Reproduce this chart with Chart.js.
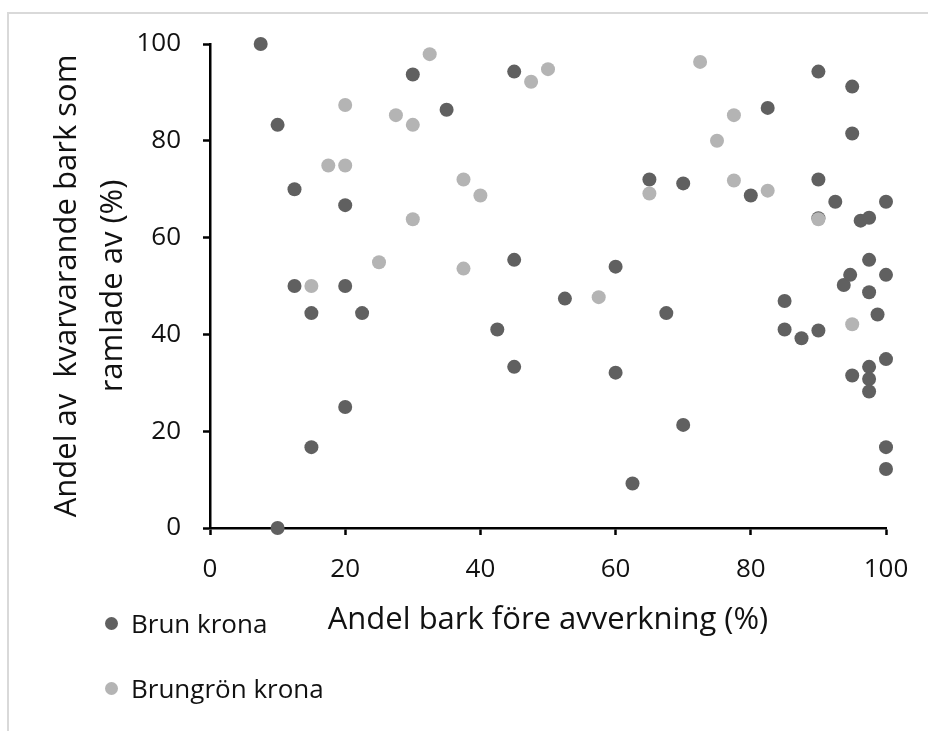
<!DOCTYPE html>
<html>
<head>
<meta charset="utf-8">
<script src="https://cdn.jsdelivr.net/npm/chart.js@4/dist/chart.umd.min.js"></script>
<style>
    body { margin: 0; background: #fff; }
    #wrap { position: relative; width: 928px; height: 731px; overflow: hidden; }
    #frame { position: absolute; left: 7px; top: 12px; width: 1000px; height: 1000px;
             border-left: 2px solid #d9d9d9; border-top: 2px solid #d9d9d9; }
    #chart { position: absolute; left: 0; top: 0; }
    .legend-item { position: absolute; left: 105px; font: 26px "Open Sans"; color: #111;
                   display: flex; align-items: center; height: 30px; }
    .legend-dot { width: 13px; height: 13px; border-radius: 50%; margin-right: 13px; }
</style>
</head>
<body>
<div id="wrap">
    <div id="frame"></div>
    <canvas id="chart" width="928" height="731"></canvas>
    <div class="legend-item" style="top: 608px;"><span class="legend-dot" style="background:#606060"></span>Brun krona</div>
    <div class="legend-item" style="top: 673px;"><span class="legend-dot" style="background:#b4b4b4"></span>Brungrön krona</div>
</div>
<script>
// Brun krona
const brunX = [7.5, 10, 12.5, 12.5, 15, 15, 10, 20, 20, 20, 22.5, 30, 35, 45, 45, 42.5, 45, 52.5, 60, 60, 62.5,
    65, 67.5, 70, 70, 80, 82.5, 85, 85, 87.5, 90, 90, 90, 90, 92.5, 93.75, 94.7, 95, 95, 95, 96.25,
    97.5, 97.5, 97.5, 97.5, 97.5, 97.5, 98.75, 100, 100, 100, 100, 100];
const brunY = [100, 83.3, 70, 50, 44.4, 16.7, 0, 66.7, 50, 25, 44.4, 93.7, 86.4, 94.3, 55.4, 41, 33.3, 47.4, 54, 32.1, 9.2,
    72, 44.4, 71.2, 21.3, 68.7, 86.8, 46.9, 41, 39.2, 94.3, 72, 64, 40.8, 67.4, 50.2, 52.3, 91.2, 81.5, 31.5, 63.5,
    64.1, 55.4, 48.7, 33.3, 30.8, 28.2, 44.1, 67.4, 52.3, 34.9, 16.7, 12.2];

// Brungrön krona
const brungronX = [32.5, 47.5, 50, 20, 27.5, 30, 17.5, 20, 37.5, 40, 30, 25, 37.5, 15, 57.5, 65, 72.5, 77.5, 75, 77.5, 82.5, 90, 95];
const brungronY = [97.9, 92.2, 94.8, 87.4, 85.3, 83.3, 74.9, 74.9, 72, 68.7, 63.8, 54.9, 53.6, 50, 47.7, 69.1, 96.3, 85.3, 80, 71.8, 69.7, 63.8, 42.1];

const xTicks = [0, 20, 40, 60, 80, 100];
const yTicks = [0, 20, 40, 60, 80, 100];

const seriesNames = ['Brun krona', 'Brungrön krona'];
const xTitle = 'Andel bark före avverkning (%)';
const yTitle = ['Andel av  kvarvarande bark som', 'ramlade av (%)'];

function toPoints(xs, ys) {
    return xs.map((x, i) => ({ x: x, y: ys[i] }));
}

const axisStyle = {
    border: { display: true, color: '#000', width: 2.5 },
    grid: { display: true, drawOnChartArea: false, drawTicks: true, tickLength: 7, tickWidth: 2.5, tickColor: '#000' }
};

const ctx = document.getElementById('chart').getContext('2d');
new Chart(ctx, {
    type: 'scatter',
    data: {
        datasets: [{
            label: seriesNames[0],
            data: toPoints(brunX, brunY),
            backgroundColor: '#606060',
            borderWidth: 0,
            pointRadius: 7,
            clip: false,
            order: 2
        }, {
            label: seriesNames[1],
            data: toPoints(brungronX, brungronY),
            backgroundColor: '#b4b4b4',
            borderWidth: 0,
            pointRadius: 7,
            clip: false,
            order: 1
        }]
    },
    options: {
        responsive: false,
        animation: false,
        layout: { padding: { left: 0, top: 44, right: 42, bottom: 0 } },
        plugins: {
            legend: { display: false },
            tooltip: { enabled: false }
        },
        scales: {
            x: {
                type: 'linear',
                min: 0,
                max: 100,
                ...axisStyle,
                afterBuildTicks: scale => { scale.ticks = xTicks.map(v => ({ value: v })); },
                afterFit: scale => { scale.height = 203; scale.paddingLeft = 0; scale.paddingRight = 0; },
                ticks: { color: '#111', padding: 19, maxRotation: 0, font: { family: 'Open Sans', size: 26 } },
                title: {
                    display: true,
                    text: xTitle,
                    color: '#111',
                    padding: { top: 0, bottom: 92 },
                    font: { family: 'Open Sans', size: 31, lineHeight: 1.2 }
                }
            },
            y: {
                type: 'linear',
                min: 0,
                max: 100,
                ...axisStyle,
                afterBuildTicks: scale => { scale.ticks = yTicks.map(v => ({ value: v })); },
                afterFit: scale => { scale.width = 210; scale.paddingTop = 0; scale.paddingBottom = 0; },
                ticks: { color: '#111', padding: 22, font: { family: 'Open Sans', size: 26 } },
                title: {
                    display: true,
                    text: yTitle,
                    color: '#111',
                    padding: { top: 44, bottom: 0 },
                    font: { family: 'Open Sans', size: 31, lineHeight: 1.48 }
                }
            }
        }
    }
});
</script>
</body>
</html>
